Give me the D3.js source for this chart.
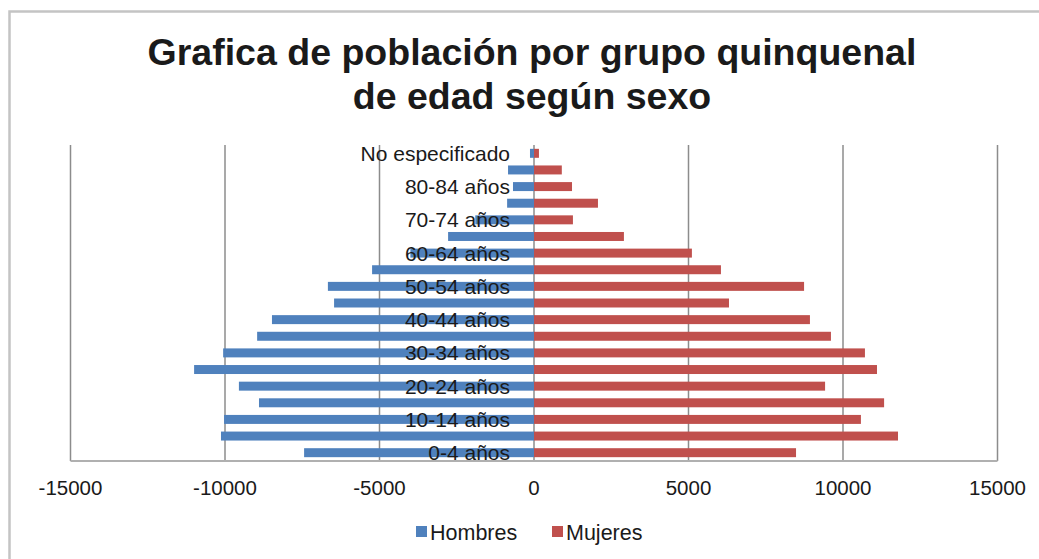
<!DOCTYPE html>
<html>
<head>
<meta charset="utf-8">
<script src="https://cdn.jsdelivr.net/npm/d3@7"></script>
<style>
  body { margin: 0; background: #fff; }
  text { font-family: "Liberation Sans", Arial, sans-serif; fill: #1a1a1a; }
</style>
</head>
<body>
<div id="chart-container"></div>
<script>
/** DATA */
const ageGroups = ["0-4 años", "5-9 años", "10-14 años", "15-19 años", "20-24 años", "25-29 años",
  "30-34 años", "35-39 años", "40-44 años", "45-49 años", "50-54 años", "55-59 años",
  "60-64 años", "65-69 años", "70-74 años", "75-79 años", "80-84 años", "85 y más", "No especificado"];
const hombres = [-7440, -10130, -10030, -8900, -9550, -11000, -10060, -8960, -8480, -6470, -6670, -5240,
  -4000, -2780, -1900, -870, -680, -840, -130];
const mujeres = [8480, 11780, 10580, 11330, 9420, 11100, 10710, 9610, 8930, 6310, 8740, 6050,
  5110, 2910, 1260, 2070, 1230, 900, 160];
const xTicks = [-15000, -10000, -5000, 0, 5000, 10000, 15000];
const seriesNames = ["Hombres", "Mujeres"];
const seriesColors = ["#4F81BD", "#C0504D"];

/** CONSTANTS */
const width = 1039;
const height = 559;
const margins = { top: 145, bottom: 98, left: 70.5, right: 41.5 };

const xScale = d3.scaleLinear()
  .domain([-15000, 15000])
  .range([margins.left, width - margins.right]);

const yScale = d3.scaleBand()
  .domain(ageGroups)
  .range([height - margins.bottom, margins.top])
  .paddingInner(0.46)
  .paddingOuter(0.23);

const svg = d3.select("#chart-container")
  .append("svg")
  .attr("width", width)
  .attr("height", height);

// outer chart frame
svg.append("rect")
  .attr("x", 9.5).attr("y", 11.5)
  .attr("width", width + 20).attr("height", height + 20)
  .attr("fill", "none")
  .attr("stroke", "#c4c4c4")
  .attr("stroke-width", 2.5);

// title
svg.append("text")
  .attr("x", 532).attr("y", 65)
  .attr("text-anchor", "middle")
  .attr("font-size", 37.5).attr("font-weight", "bold")
  .text("Grafica de población por grupo quinquenal");
svg.append("text")
  .attr("x", 532).attr("y", 109)
  .attr("text-anchor", "middle")
  .attr("font-size", 37.5).attr("font-weight", "bold")
  .text("de edad según sexo");

// vertical gridlines
svg.selectAll("line.grid")
  .data(xTicks)
  .join("line")
  .attr("class", "grid")
  .attr("x1", d => xScale(d)).attr("x2", d => xScale(d))
  .attr("y1", margins.top).attr("y2", height - margins.bottom)
  .attr("stroke", "#8c8c8c")
  .attr("stroke-width", 1.5);

// bottom axis line
svg.append("line")
  .attr("x1", margins.left).attr("x2", width - margins.right)
  .attr("y1", height - margins.bottom).attr("y2", height - margins.bottom)
  .attr("stroke", "#b0b0b0")
  .attr("stroke-width", 2);

// bars
svg.selectAll("rect.hombres")
  .data(ageGroups)
  .join("rect")
  .attr("class", "hombres")
  .attr("x", (d, i) => xScale(hombres[i]))
  .attr("width", (d, i) => xScale(0) - xScale(hombres[i]))
  .attr("y", d => yScale(d))
  .attr("height", yScale.bandwidth())
  .attr("fill", seriesColors[0]);

svg.selectAll("rect.mujeres")
  .data(ageGroups)
  .join("rect")
  .attr("class", "mujeres")
  .attr("x", xScale(0))
  .attr("width", (d, i) => xScale(mujeres[i]) - xScale(0))
  .attr("y", d => yScale(d))
  .attr("height", yScale.bandwidth())
  .attr("fill", seriesColors[1]);

// category labels (every other one, drawn over the bars)
svg.selectAll("text.age")
  .data(ageGroups.filter((d, i) => i % 2 === 0))
  .join("text")
  .attr("class", "age")
  .attr("x", xScale(0) - 24)
  .attr("y", d => yScale(d) + yScale.bandwidth() / 2)
  .attr("dy", "0.36em")
  .attr("text-anchor", "end")
  .attr("font-size", 21)
  .text(d => d);

// x tick labels
svg.selectAll("text.tick")
  .data(xTicks)
  .join("text")
  .attr("class", "tick")
  .attr("x", d => xScale(d))
  .attr("y", 495)
  .attr("text-anchor", "middle")
  .attr("font-size", 20.5)
  .text(d => d);

// legend
const legend = svg.append("g").attr("transform", "translate(416, 532)");
const legendX = [0, 136];
legend.selectAll("rect")
  .data(seriesNames)
  .join("rect")
  .attr("x", (d, i) => legendX[i])
  .attr("y", -6)
  .attr("width", 11).attr("height", 11)
  .attr("fill", (d, i) => seriesColors[i]);
legend.selectAll("text")
  .data(seriesNames)
  .join("text")
  .attr("x", (d, i) => legendX[i] + 14)
  .attr("y", 0)
  .attr("dy", "0.36em")
  .attr("font-size", 21.5)
  .text(d => d);
</script>
</body>
</html>
